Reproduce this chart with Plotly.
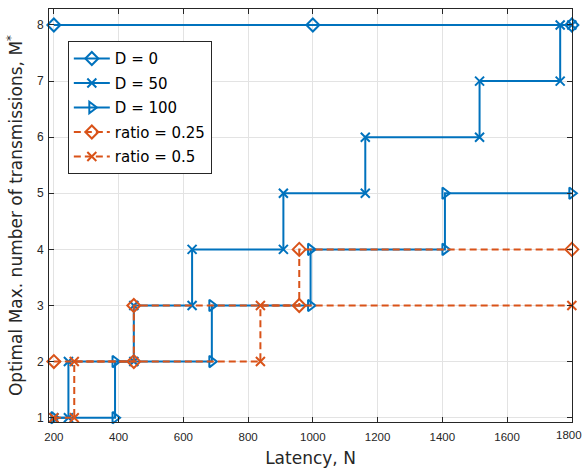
import plotly.graph_objects as go

# ---- data ----
d0_x = [200, 1000, 1800]
d0_y = [8, 8, 8]

d50_x = [200, 245, 245, 447, 447, 627, 627, 909, 909, 1162, 1162, 1515, 1515, 1764, 1764, 1800]
d50_y = [1, 1, 2, 2, 3, 3, 4, 4, 5, 5, 6, 6, 7, 7, 8, 8]

d100_x = [200, 389, 389, 688, 688, 993, 993, 1408, 1408, 1800]
d100_y = [1, 1, 2, 2, 3, 3, 4, 4, 5, 5]

r25_x = [200, 447, 447, 958, 958, 1800]
r25_y = [2, 2, 3, 3, 4, 4]

r50_x = [200, 263, 263, 838, 838, 1800]
r50_y = [1, 1, 2, 2, 3, 3]

x_ticks = [200, 400, 600, 800, 1000, 1200, 1400, 1600, 1800]
y_ticks = [1, 2, 3, 4, 5, 6, 7, 8]

BLUE = "#0072BD"
ORANGE = "#D95319"
TXT = "#262626"
TFONT = "DejaVu Sans, Liberation Sans, Arial"
KFONT = "Liberation Sans, Arial"

series = [
    ("D = 0", d0_x, d0_y, BLUE, "solid", "diamond-open", 10),
    ("D = 50", d50_x, d50_y, BLUE, "solid", "x-thin-open", 9),
    ("D = 100", d100_x, d100_y, BLUE, "solid", "triangle-right-open", 10),
    ("ratio = 0.25", r25_x, r25_y, ORANGE, "7px,4px", "diamond-open", 10),
    ("ratio = 0.5", r50_x, r50_y, ORANGE, "7px,4px", "x-thin-open", 9),
]

fig = go.Figure()
for i, (name, xs, ys, col, dash, sym, sz) in enumerate(series):
    fig.add_trace(go.Scatter(
        x=xs, y=ys, name=name, mode="lines+markers",
        line=dict(color=col, width=2, dash=dash),
        marker=dict(symbol=sym, size=sz, color=col, line=dict(color=col, width=2)),
        cliponaxis=False, legendgroup=f"g{i}",
    ))

# invisible helper trace so the secondary x axis (carrying the last, edge tick label) is drawn
fig.add_trace(go.Scatter(
    x=[x_ticks[-1]], y=[y_ticks[0]], xaxis="x2", mode="markers",
    marker=dict(opacity=0), showlegend=False, hoverinfo="skip",
))

axis_common = dict(
    showgrid=True, gridcolor="#E3E3E3", gridwidth=1,
    showline=True, linecolor=TXT, linewidth=1, mirror="ticks",
    ticks="inside", ticklen=5, tickcolor=TXT, tickwidth=1,
    zeroline=False, ticklabeloverflow="allow",
)
xfont = dict(family=KFONT, size=11.5, color=TXT)

fig.update_layout(
    xaxis=dict(
        range=[185, 1800.5], tickvals=x_ticks,
        ticktext=[str(v) for v in x_ticks[:-1]] + [""],
        ticklabelstandoff=4, tickfont=xfont,
        title=dict(text="Latency, N", font=dict(family=TFONT, size=17, color=TXT), standoff=10),
        **axis_common,
    ),
    xaxis2=dict(
        overlaying="x", anchor="y", side="bottom", range=[185, 1800.5],
        tickvals=[x_ticks[-1]], ticktext=[str(x_ticks[-1])],
        showgrid=False, showline=False, zeroline=False, ticks="",
        ticklabelstandoff=4, ticklabelshift=-3, tickfont=xfont, ticklabeloverflow="allow",
    ),
    yaxis=dict(
        range=[0.923, 8.285], tickvals=y_ticks, ticktext=[str(v) for v in y_ticks],
        ticklabelstandoff=2, tickfont=dict(family=KFONT, size=12, color=TXT),
        title=dict(text="Optimal Max. number of transmissions, M<sup>*</sup>",
                   font=dict(family=TFONT, size=17, color=TXT), standoff=9),
        **axis_common,
    ),
)

fig.update_layout(
    width=582, height=468,
    margin=dict(l=49, r=10, t=9, b=46, autoexpand=False),
    plot_bgcolor="white", paper_bgcolor="white",
    font=dict(family=KFONT, color=TXT),
    legend=dict(
        x=0.036, y=0.922, xanchor="left", yanchor="top",
        bgcolor="white", bordercolor=TXT, borderwidth=1,
        font=dict(family=TFONT, size=15, color="black"),
        itemwidth=36, traceorder="grouped", tracegroupgap=2,
    ),
    showlegend=True,
)

fig.write_html(
    "out.html",
    config={"displayModeBar": False},
    post_script="document.body.style.margin='0';document.body.style.overflow='hidden';",
)
